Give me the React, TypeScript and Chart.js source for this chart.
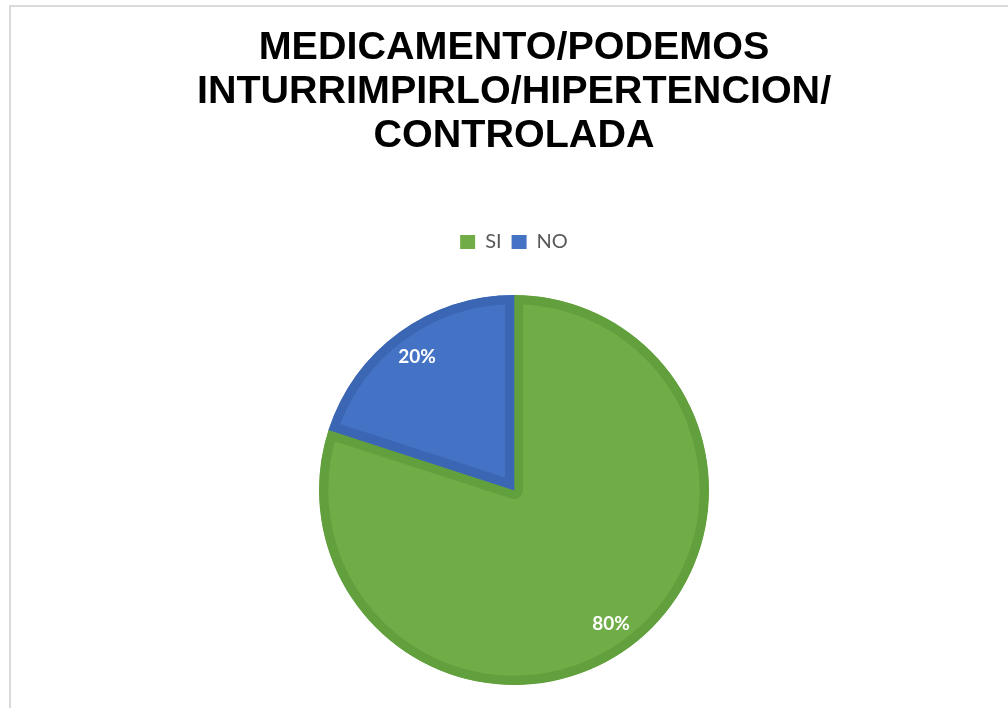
import React, { useEffect, useRef } from "react";
import { Chart, registerables } from "chart.js";

Chart.register(...registerables);

const categories = ["SI", "NO"];
const values = [80, 20];
const fillColors = ["#70ad47", "#4472c4"];
const edgeColors = ["#62a03e", "#3b66b3"];
const titleLines = ["MEDICAMENTO/PODEMOS", "INTURRIMPIRLO/HIPERTENCION/", "CONTROLADA"];

const percentLabels = {
  id: "percentLabels",
  afterDatasetsDraw(chart: any) {
    const ctx = chart.ctx;
    const meta = chart.getDatasetMeta(0);
    const data = chart.data.datasets[0].data as number[];
    const total = data.reduce((a, b) => a + b, 0);
    ctx.save();
    ctx.fillStyle = "#ffffff";
    ctx.font = "bold 19px Lato, 'Open Sans', sans-serif";
    ctx.textAlign = "center";
    ctx.textBaseline = "middle";
    meta.data.forEach((arc: any, i: number) => {
      const p = arc.getProps(["x", "y", "startAngle", "endAngle", "outerRadius"], true);
      const mid = (p.startAngle + p.endAngle) / 2;
      const r = p.outerRadius * 0.846;
      const x = p.x + Math.cos(mid) * r;
      const y = p.y + Math.sin(mid) * r;
      ctx.fillText(Math.round((data[i] / total) * 100) + "%", x, y);
    });
    ctx.restore();
  },
};

const legendGap = {
  id: "legendGap",
  beforeInit(chart: any) {
    const orig = chart.legend.fit;
    chart.legend.fit = function fit() {
      orig.bind(chart.legend)();
      this.height += 33;
    };
  },
};

export default function App() {
  const ref = useRef<HTMLCanvasElement | null>(null);
  useEffect(() => {
    document.body.style.margin = "0";
    if (!ref.current) return;
    const chart = new Chart(ref.current, {
      type: "pie",
      data: {
        labels: categories,
        datasets: [
          {
            data: values,
            backgroundColor: fillColors,
            borderColor: edgeColors,
            borderWidth: 9,
            borderAlign: "inner",
          } as any,
        ],
      },
      options: {
        animation: false,
        responsive: false,
        maintainAspectRatio: false,
        layout: { padding: { left: 20, right: 0, top: 0, bottom: 23 } },
        plugins: {
          title: {
            display: true,
            text: titleLines,
            color: "#000000",
            font: { family: "'Liberation Sans', Arial, sans-serif", size: 39.5, weight: "bold", lineHeight: "44px" as any },
            padding: { top: 26, bottom: 64 },
          },
          legend: {
            display: true,
            position: "top",
            labels: {
              boxWidth: 15,
              boxHeight: 14,
              padding: 10,
              color: "#595959",
              font: { family: "Lato, 'Open Sans', sans-serif", size: 20 },
              generateLabels: (c: any) =>
                c.data.labels.map((lab: string, i: number) => ({
                  text: lab,
                  fillStyle: fillColors[i],
                  strokeStyle: "rgba(0,0,0,0)",
                  lineWidth: 0,
                  fontColor: "#595959",
                  hidden: false,
                  index: i,
                })),
            },
          },
          tooltip: { enabled: false },
        },
      },
      plugins: [percentLabels, legendGap],
    });
    return () => chart.destroy();
  }, []);
  return (
    <div style={{ position: "relative", width: 1008, height: 708, overflow: "hidden", background: "#fff" }}>
      <div
        style={{
          position: "absolute",
          left: 9,
          top: 5,
          width: 1200,
          height: 900,
          borderTop: "2px solid #d9d9d9",
          borderLeft: "2px solid #d9d9d9",
        }}
      />
      <canvas ref={ref} width={1008} height={708} style={{ position: "absolute", left: 0, top: 0 }} />
    </div>
  );
}
